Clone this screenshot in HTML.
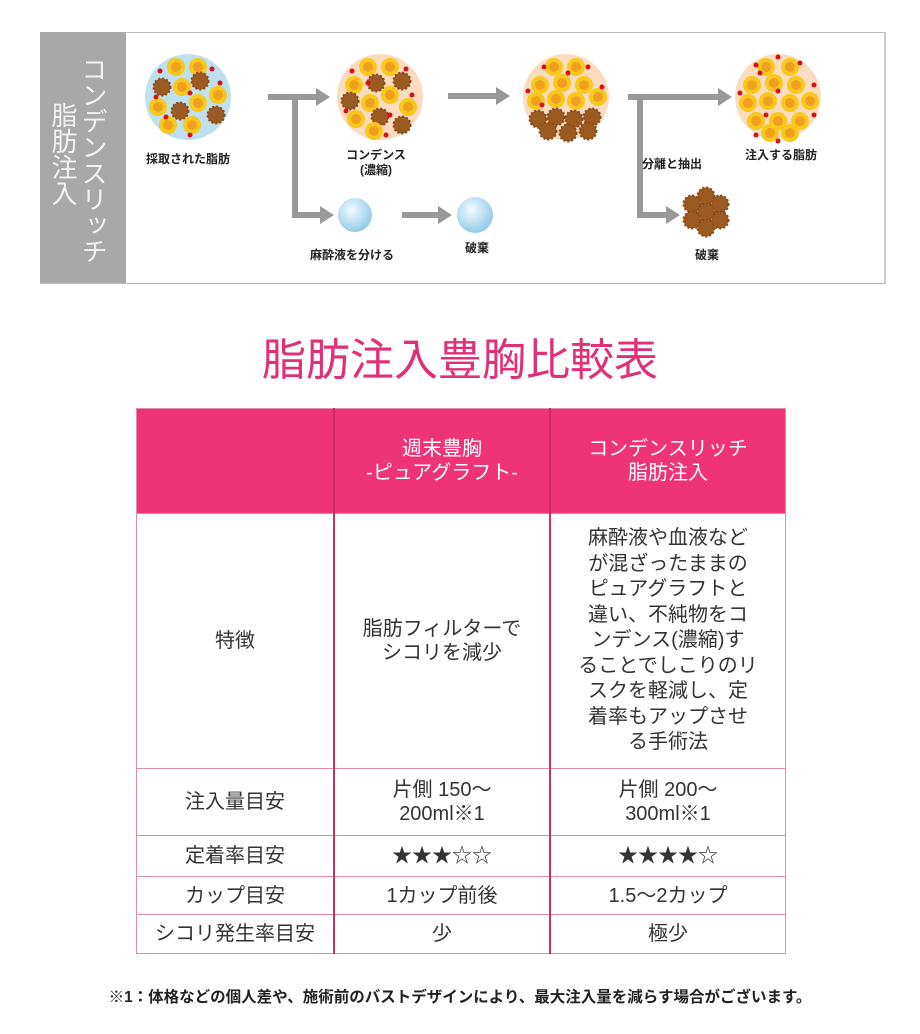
<!DOCTYPE html>
<html><head><meta charset="utf-8"><style>
body{margin:0;width:920px;height:1034px;background:#fff;position:relative;font-family:"Liberation Sans","Noto Sans CJK JP",sans-serif;overflow:hidden}
.a{position:absolute}
.lab{position:absolute;font-size:12px;font-weight:bold;color:#222;text-align:center;white-space:nowrap;transform:translateX(-50%);line-height:15px}
table{position:absolute;left:136px;top:408px;border-collapse:collapse;width:650px;}
td{border:1px solid #e28aad;text-align:center;color:#333;font-size:20px;line-height:24px;padding:0}
td.c1{border-right:2px solid #c8306a}
td.c2{border-right:2px solid #c8306a}
tr.h td{background:#ee3377;color:#fff;height:104px}
</style></head><body>
<div class="a" style="left:40px;top:32px;width:843px;height:250px;border:1px solid #bbb;border-right:2px solid #ccc;"></div>
<div class="a" style="left:40px;top:32px;width:86px;height:251px;background:#a8a8a8;"></div>
<div class="a" style="left:48px;top:56px;height:210px;writing-mode:vertical-rl;font-size:26px;line-height:30px;color:#f2f2f2;">コンデンスリッチ<br><span style="padding-top:46px;display:inline-block">脂肪注入</span></div>
<svg class="a" style="left:0;top:0" width="920" height="300">
<defs>
<g id="y"><circle r="9" fill="#f8c81a"/><circle r="5" fill="#f0a020"/></g>
<g id="b"><circle r="8.5" fill="#9a5a22" stroke="#8a4a18" stroke-width="2" stroke-dasharray="2 2"/></g>
<circle id="r" r="2.5" fill="#d8101a"/>
</defs>
<g fill="none" stroke="#999" stroke-width="6">
<path d="M268 97H318M295 97V215H322M448 96H498M402 215H440M628 97H720M640 97V215H668"/>
</g>
<g fill="#999"><path d="M316 88L330 97L316 106Z"/><path d="M320 206L334 215L320 224Z"/><path d="M496 87L510 96L496 105Z"/><path d="M438 206L452 215L438 224Z"/><path d="M718 88L732 97L718 106Z"/><path d="M666 206L680 215L666 224Z"/></g>
<circle cx="188" cy="97" r="43" fill="#bfe0ee"/>
<g transform="translate(188,97)"><use href="#y" x="-12" y="-30"/><use href="#y" x="10" y="-30"/><use href="#b" x="-26" y="-10"/><use href="#y" x="-6" y="-10"/><use href="#b" x="12" y="-16"/><use href="#y" x="30" y="-2"/><use href="#y" x="-30" y="10"/><use href="#y" x="10" y="6"/><use href="#b" x="-8" y="14"/><use href="#b" x="28" y="18"/><use href="#y" x="-20" y="28"/><use href="#y" x="4" y="28"/><use href="#r" x="-28" y="-26"/><use href="#r" x="24" y="-28"/><use href="#r" x="2" y="-4"/><use href="#r" x="-32" y="0"/><use href="#r" x="32" y="-14"/><use href="#r" x="-22" y="20"/><use href="#r" x="2" y="38"/></g>
<circle cx="380" cy="97" r="43" fill="#fbdcc0"/>
<g transform="translate(380,97)"><use href="#y" x="-12" y="-30"/><use href="#y" x="10" y="-30"/><use href="#b" x="-4" y="-14"/><use href="#y" x="-26" y="-12"/><use href="#b" x="22" y="-16"/><use href="#y" x="10" y="-2"/><use href="#b" x="-30" y="4"/><use href="#y" x="-10" y="6"/><use href="#y" x="28" y="10"/><use href="#y" x="-24" y="22"/><use href="#b" x="0" y="20"/><use href="#b" x="22" y="28"/><use href="#y" x="-6" y="34"/><use href="#r" x="-28" y="-26"/><use href="#r" x="26" y="-28"/><use href="#r" x="-12" y="-14"/><use href="#r" x="32" y="-2"/><use href="#r" x="-34" y="14"/><use href="#r" x="10" y="18"/><use href="#r" x="6" y="38"/></g>
<circle cx="566" cy="97" r="43" fill="#fbdcc0"/>
<g transform="translate(566,97)"><use href="#y" x="-12" y="-30"/><use href="#y" x="10" y="-30"/><use href="#y" x="-26" y="-12"/><use href="#y" x="-4" y="-14"/><use href="#y" x="18" y="-12"/><use href="#y" x="32" y="0"/><use href="#y" x="-30" y="4"/><use href="#y" x="-10" y="2"/><use href="#y" x="10" y="4"/><use href="#b" x="-28" y="22"/><use href="#b" x="-10" y="20"/><use href="#b" x="8" y="22"/><use href="#b" x="26" y="20"/><use href="#b" x="-18" y="34"/><use href="#b" x="2" y="36"/><use href="#b" x="22" y="34"/><use href="#r" x="-22" y="-30"/><use href="#r" x="22" y="-30"/><use href="#r" x="-38" y="-6"/><use href="#r" x="2" y="-24"/><use href="#r" x="36" y="-10"/><use href="#r" x="-24" y="8"/></g>
<circle cx="778" cy="97" r="43" fill="#fbdcc0"/>
<g transform="translate(778,97)"><use href="#y" x="-12" y="-30"/><use href="#y" x="12" y="-30"/><use href="#y" x="-26" y="-12"/><use href="#y" x="-4" y="-14"/><use href="#y" x="18" y="-12"/><use href="#y" x="32" y="4"/><use href="#y" x="-30" y="6"/><use href="#y" x="-10" y="4"/><use href="#y" x="12" y="6"/><use href="#y" x="-22" y="24"/><use href="#y" x="0" y="24"/><use href="#y" x="22" y="24"/><use href="#y" x="-8" y="36"/><use href="#y" x="12" y="36"/><use href="#r" x="-22" y="-32"/><use href="#r" x="0" y="-40"/><use href="#r" x="22" y="-34"/><use href="#r" x="-38" y="-4"/><use href="#r" x="-18" y="-24"/><use href="#r" x="36" y="-12"/><use href="#r" x="0" y="-6"/><use href="#r" x="36" y="18"/><use href="#r" x="-12" y="18"/><use href="#r" x="0" y="44"/><use href="#r" x="-22" y="38"/></g>
<radialGradient id="bl" cx="0.4" cy="0.35" r="0.7"><stop offset="0" stop-color="#f2fbff"/><stop offset="1" stop-color="#8cc8e6"/></radialGradient>
<circle cx="355" cy="215" r="17" fill="url(#bl)"/>
<circle cx="475" cy="215" r="18" fill="url(#bl)"/>
<g transform="translate(706,212)"><use href="#b" x="0" y="-16"/><use href="#b" x="14" y="-8"/><use href="#b" x="-14" y="-8"/><use href="#b" x="0" y="0"/><use href="#b" x="14" y="8"/><use href="#b" x="-14" y="8"/><use href="#b" x="0" y="16"/></g>
</svg>
<div class="lab" style="left:188px;top:152px">採取された脂肪</div>
<div class="lab" style="left:376px;top:148px">コンデンス<br>(濃縮)</div>
<div class="lab" style="left:352px;top:248px">麻酔液を分ける</div>
<div class="lab" style="left:477px;top:241px">破棄</div>
<div class="lab" style="left:672px;top:157px">分離と抽出</div>
<div class="lab" style="left:781px;top:148px">注入する脂肪</div>
<div class="lab" style="left:707px;top:248px">破棄</div>
<div class="a" style="left:0;width:920px;top:333px;text-align:center;font-size:44px;color:#e0307a;line-height:56px">脂肪注入豊胸比較表</div>
<table>
<tr class="h"><td class="c1" style="width:196px"></td><td class="c2" style="width:214px">週末豊胸<br>-ピュアグラフト-</td><td>コンデンスリッチ<br>脂肪注入</td></tr>
<tr><td class="c1" style="height:254px">特徴</td><td class="c2">脂肪フィルターで<br>シコリを減少</td><td style="line-height:25.5px">麻酔液や血液など<br>が混ざったままの<br>ピュアグラフトと<br>違い、不純物をコ<br>ンデンス(濃縮)す<br>ることでしこりのリ<br>スクを軽減し、定<br>着率もアップさせ<br>る手術法</td></tr>
<tr><td class="c1" style="height:66px">注入量目安</td><td class="c2">片側 150～<br>200ml※1</td><td>片側 200～<br>300ml※1</td></tr>
<tr><td class="c1" style="height:40px">定着率目安</td><td class="c2">★★★☆☆</td><td>★★★★☆</td></tr>
<tr><td class="c1" style="height:37px">カップ目安</td><td class="c2">1カップ前後</td><td>1.5～2カップ</td></tr>
<tr><td class="c1" style="height:38px">シコリ発生率目安</td><td class="c2">少</td><td>極少</td></tr>
</table>
<div class="a" style="left:0;width:920px;top:985px;text-align:center;font-size:15.5px;font-weight:bold;color:#222">※1：体格などの個人差や、施術前のバストデザインにより、最大注入量を減らす場合がございます。</div>
</body></html>
